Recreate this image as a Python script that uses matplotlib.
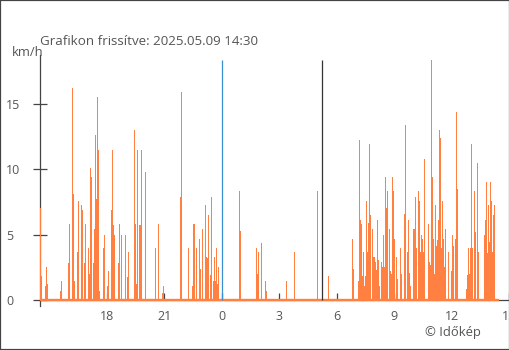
import matplotlib
matplotlib.use("Agg")
import matplotlib.pyplot as plt
from matplotlib.patches import Rectangle

# Wind speed readings (km/h); zero readings are omitted
times = [
    "14:30", "14:33", "14:36", "14:47", "14:50", "14:53", "15:34", "15:37",
    "15:59", "16:02", "16:11", "16:14", "16:18", "16:27", "16:30", "16:40",
    "16:43", "16:49", "16:52", "17:01", "17:05", "17:08", "17:11", "17:17",
    "17:20", "17:23", "17:27", "17:30", "17:33", "17:36", "17:49", "17:52",
    "18:01", "18:04", "18:14", "18:17", "18:20", "18:23", "18:35", "18:38",
    "18:44", "18:47", "18:57", "19:03", "19:06", "19:25", "19:28", "19:31",
    "19:34", "19:37", "19:41", "19:44", "19:47", "20:02", "20:31", "20:40",
    "20:53", "20:56", "21:49", "21:52", "21:55", "22:14", "22:17", "22:27",
    "22:30", "22:33", "22:39", "22:42", "22:49", "22:52", "22:58", "23:04",
    "23:08", "23:11", "23:14", "23:17", "23:23", "23:26", "23:29", "23:33",
    "23:36", "23:39", "23:42", "23:45", "23:48",
    "00:54", "00:58", "01:48", "01:51", "01:54", "02:03", "02:16", "02:19",
    "03:22", "03:47", "04:59", "05:33", "06:49", "06:52",
    "07:07", "07:10", "07:14", "07:17", "07:20", "07:23", "07:26", "07:29",
    "07:32", "07:36", "07:39", "07:42", "07:45", "07:51", "07:54", "07:58",
    "08:01", "08:04", "08:07", "08:10", "08:13", "08:20", "08:23", "08:26",
    "08:29", "08:32", "08:35", "08:38", "08:45", "08:48", "08:51", "08:54",
    "08:57", "09:00", "09:06", "09:10", "09:19", "09:22", "09:32", "09:35",
    "09:41", "09:44", "09:47", "09:50", "10:00", "10:03", "10:06", "10:09",
    "10:15", "10:19", "10:22", "10:25", "10:28", "10:31", "10:34", "10:47",
    "10:50", "10:53", "10:56", "10:59", "11:02", "11:06", "11:09", "11:12",
    "11:15", "11:18", "11:21", "11:24", "11:28", "11:31", "11:34", "11:37",
    "11:40", "11:49", "11:59", "12:02", "12:05", "12:11", "12:15", "12:18",
    "12:46", "12:49", "12:52", "12:55", "12:58", "13:02", "13:05", "13:11",
    "13:14", "13:20", "13:24", "13:42", "13:45", "13:49", "13:52", "13:55",
    "13:58", "14:01", "14:04", "14:07", "14:11", "14:14",
]
speeds = [
    8.3, 7.0, 1.8, 1.1, 2.5, 1.2, 0.7, 1.45,
    2.8, 5.8, 16.2, 8.1, 1.45, 3.7, 7.55, 7.25,
    6.9, 2.8, 5.8, 4.0, 2.0, 10.1, 9.4, 2.8,
    5.4, 12.6, 7.7, 15.5, 11.5, 0.7, 4.0, 5.0,
    1.07, 2.2, 6.9, 11.5, 5.7, 5.0, 2.8, 5.8,
    5.0, 10.1, 5.0, 1.75, 3.65, 13.0, 5.8, 1.2,
    2.5, 11.5, 5.7, 5.7, 11.5, 9.75, 4.0, 5.8,
    0.5, 1.1, 7.85, 15.9, 4.0, 4.0, 2.9, 1.07,
    5.8, 5.8, 4.0, 2.0, 4.7, 2.4, 5.4, 5.0,
    7.25, 3.3, 3.2, 6.5, 1.9, 7.9, 5.8, 1.45,
    3.3, 1.45, 4.0, 1.2, 2.5,
    8.3, 5.3, 4.0, 2.0, 3.65, 4.35, 1.45, 0.7,
    1.45, 3.65, 8.3, 1.8, 4.7, 2.4,
    1.45, 12.2, 6.1, 5.8, 1.8, 3.65, 1.07, 1.8,
    7.55, 3.7, 5.9, 11.9, 6.5, 5.4, 3.3, 3.3,
    2.9, 2.3, 6.1, 3.05, 1.07, 2.9, 2.5, 5.0,
    2.5, 9.4, 7.0, 8.3, 5.4, 2.2, 2.0, 9.4,
    8.3, 4.7, 3.3, 1.6, 4.0, 2.0, 6.6, 13.35,
    3.7, 6.1, 2.1, 1.1, 5.4, 5.4, 7.9, 4.0,
    8.3, 7.55, 3.7, 5.0, 4.7, 3.65, 10.8, 5.8,
    2.9, 2.7, 18.35, 9.4, 4.65, 2.0, 7.25, 4.1,
    4.6, 6.1, 13.0, 12.4, 4.0, 7.55, 4.7, 2.5,
    5.4, 3.65, 2.2, 5.0, 4.1, 4.7, 14.4, 8.45,
    0.85, 1.9, 4.0, 2.0, 4.0, 11.9, 4.0, 8.3,
    5.2, 10.45, 3.65, 5.0, 6.1, 9.0, 3.6, 7.25,
    4.4, 9.0, 7.55, 3.7, 6.5, 7.25,
]

period_start = "14:30"      # previous day
period_end = "14:30"        # update day
midnight = "00:00"
sunrise = "05:15"
updated_text = "Grafikon frissítve: 2025.05.09 14:30"
tick_hours = [-6, -3, 0, 3, 6, 9, 12, 15]
tick_labels = ["18", "21", "0", "3", "6", "9", "12", "15"]
y_ticks = [0, 5, 10, 15]

ORANGE = "#ff8040"
DARK = "#444444"
TEXT = "#555555"
FONT = ["Open Sans", "DejaVu Sans"]


def to_hours(hhmm, prev_day_from=14.5):
    h, m = hhmm.split(":")
    v = int(h) + int(m) / 60.0
    return v - 24 if v >= prev_day_from else v


x = [to_hours(t) for t in times]
t0 = to_hours(period_start)
t1 = to_hours(period_end, prev_day_from=99)

W, H = 510, 350
fig = plt.figure(figsize=(W / 100, H / 100), dpi=100)
plt.rcParams["font.family"] = FONT

ax = fig.add_axes([40 / W, (H - 306) / H, 470 / W, 251 / H])
ax.set_xlim(-9.5, 15.05)
ax.set_ylim(-0.46, 18.73)

# zero line along the whole period
ax.plot([t0, t1], [0, 0], color=ORANGE, lw=1.7, solid_capstyle="butt",
        zorder=3)
ax.bar(x, speeds, width=0.05, color=ORANGE, linewidth=0, align="center",
       zorder=3, clip_on=False)

# midnight and sunrise markers
ax.vlines(to_hours(midnight), 0, 18.35, color="#3a8fd0", lw=0.9, zorder=4)
ax.vlines(to_hours(sunrise), 0, 18.35, color="#333333", lw=0.9, zorder=4)

for side in ("top", "right"):
    ax.spines[side].set_visible(False)
ax.spines["bottom"].set_position(("data", 0))
for side in ("left", "bottom"):
    ax.spines[side].set_color(DARK)
    ax.spines[side].set_linewidth(0.9)

ax.set_xticks(tick_hours)
ax.set_xticklabels(tick_labels)
ax.set_yticks(y_ticks)
ax.set_yticklabels([str(v) for v in y_ticks])
ax.tick_params(axis="x", direction="in", length=5, width=0.9, color=DARK,
               pad=7.5, labelsize=9, labelcolor=TEXT)
ax.tick_params(axis="y", direction="inout", length=9.4, width=0.9,
               color=DARK, pad=19.8, labelsize=9, labelcolor=TEXT)
for lbl in ax.get_yticklabels():
    lbl.set_horizontalalignment("left")
ax.patch.set_alpha(0)

fig.text(40 / W, 1 - 45 / H, updated_text, fontsize=9.6, color=TEXT,
         va="baseline", ha="left")
fig.text(12 / W, 1 - 56 / H, "km/h", fontsize=9.4, color=TEXT,
         va="baseline", ha="left")
fig.text(425 / W, 1 - 336 / H, "© Időkép", fontsize=9.4, color=TEXT,
         va="baseline", ha="left")

fig.patches.append(Rectangle((0, 0), 1, 1, transform=fig.transFigure,
                             fill=False, edgecolor=DARK, lw=1.6))

fig.savefig("out.png", dpi=100)
